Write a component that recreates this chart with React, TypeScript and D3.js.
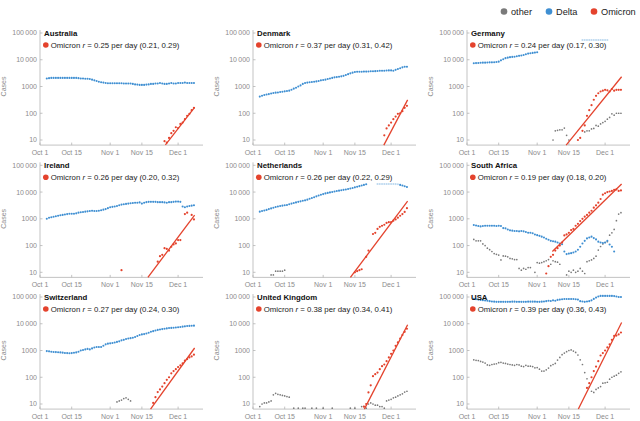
import * as d3 from 'd3';

// days are counted from Oct 1 2021; each series starts at a given day
type Series = { start: number; values: (number | null)[] };

const countries = ['Australia', 'Denmark', 'Germany', 'Ireland', 'Netherlands', 'South Africa', 'Switzerland', 'United Kingdom', 'USA'];
const growthRates = [0.25, 0.37, 0.24, 0.26, 0.26, 0.19, 0.27, 0.38, 0.39];
const rateLow = [0.21, 0.31, 0.17, 0.2, 0.22, 0.18, 0.24, 0.34, 0.36];
const rateHigh = [0.29, 0.42, 0.3, 0.32, 0.29, 0.2, 0.3, 0.41, 0.43];
const fitStartDays = [55.4, 57.4, 43.5, 47, 42.7, 37.7, 48.5, 48.9, 49];
const fitEndValues = [166, 315, 2310, 1380, 4600, 20000, 1240, 9200, 11200];
const fitEndDay = 68.3;

const xTicks = ['2021-10-01', '2021-10-15', '2021-11-01', '2021-11-15', '2021-12-01'];
const yTicks = [10, 100, 1000, 10000, 100000];
const yTickLabels = ['10', '100', '1000', '10\u2009000', '100\u2009000'];

const ausDelta: Series = { start: 3, values: [2000, 2050, 2100, 2100, 2100, 2100, 2100, 2100, 2100, 2100, 2100, 2100, 2100, 2100, 2050, 2000, 2000, 1950, 1950, 1900, 1800, 1700, 1600, 1500, 1450, 1400, 1350, 1330, 1320, 1320, 1320, 1320, 1320, 1320, 1300, 1300, 1300, 1300, 1250, 1200, 1180, 1150, 1150, 1150, 1180, 1200, 1250, 1250, 1300, 1300, 1350, 1300, 1250, 1250, 1300, 1350, 1300, 1300, 1350, 1350, 1350, 1400, 1350, 1350, 1350, 1350] };
const ausOmicron: Series = { start: 55, values: [9, 8, 12, 18, 22, 30, 28, 40, 45, 60, 80, 95, 130, 160] };

const denDelta: Series = { start: 3, values: [420, 450, 480, 500, 520, 550, 570, 590, 600, 620, 640, 660, 680, 700, 760, 830, 900, 1000, 1100, 1250, 1350, 1400, 1450, 1480, 1500, 1550, 1600, 1700, 1750, 1800, 1900, 2000, 2100, 2200, 2250, 2300, 2400, 2500, 2700, 2900, 3100, 3300, 3500, 3550, 3550, 3550, 3600, 3600, 3650, 3700, 3700, 3750, 3800, 3900, 3900, 3900, 3950, 4000, 4000, 3900, 4200, 4500, 4800, 5200, 5500, 5500] };
const denOmicron: Series = { start: 58, values: [15, 27, 35, 45, 60, 75, 95, 100, 120, 160, 190] };

const gerDelta: Series = { start: 3, values: [7400, 7500, 7600, 7700, 7800, 7800, 7900, 8000, 8000, 8100, 8200, 8500, 9500, 10500, 11500, 12000, 12500, 12800, 13000, 13500, 14000, 14500, 15000, 16000, 17000, 17500, 18000, 18500, 19000] };
const gerDeltaFaded: Series = { start: 51, values: [55000, 55000, 55000, 55000, 55000, 55000, 55000, 55000, 55000, 55000, 55000, 55000] };
const gerOther: Series = { start: 38, values: [10, 22, 23, 24, 24, 28, 15, 10, null, null, null, null, null, null, 20, 22, 22, 26, 27, 35, 33, 40, 45, 50, 60, 70, 95, 85, 100, 100, 100] };
const gerOmicron: Series = { start: 49, values: [10, 12, 22, 35, 80, 130, 200, 320, 450, 560, 650, 700, 750, 720, 650, 800, 700, 750, 750, 750] };

const ireDelta: Series = { start: 3, values: [1000, 1100, 1150, 1200, 1250, 1300, 1350, 1400, 1450, 1500, 1550, 1550, 1550, 1600, 1700, 1750, 1800, 1850, 1900, 1950, 2000, 1950, 1950, 2000, 2100, 2200, 2300, 2500, 2700, 2800, 2900, 3000, 3200, 3400, 3500, 3600, 3700, 3800, 3900, 4000, 4000, 4100, 3700, 4000, 4200, 4300, 4300, 4300, 4300, 4200, 4200, 4200, 4100, 4000, 4200, 4200, 4300, 4400, 4400, 4300, 2900, 2700, 2900, 3000, 3100, 3200] };
const ireOmicron: Series = { start: 36, values: [12, null, null, null, null, null, null, null, null, null, null, null, null, null, null, null, 25, 40, 45, 80, 75, 65, 90, 110, 120, 160, 160, null, 1500, 1700, null, 1400, 950] };

const nedDelta: Series = { start: 3, values: [1850, 1950, 2050, 2150, 2300, 2450, 2600, 2750, 2900, 3000, 3100, 3200, 3300, 3500, 3700, 3900, 4100, 4300, 4500, 4700, 4900, 5200, 5600, 6000, 6400, 6900, 7400, 7900, 8400, 8900, 9300, 9700, 10100, 10500, 10900, 11300, 11700, 12100, 12500, 13000, 13500, 14200, 15000, 15800, 16600, 17500, 18500, 19500] };
const nedDeltaFaded: Series = { start: 55, values: [20000, 20000, 20000, 20000, 20000, 20000, 20000, 20000, 19800, 19500] };
const nedDeltaLate: Series = { start: 65, values: [18500, 17500, 16500, 15500] };
const nedOther: Series = { start: 8, values: [8, 8, 11, 11, 11, 11, 12] };
const nedOmicron: Series = { start: 45, values: [10, 11, 12, 13, null, 38, 65, null, 270, 300, 420, 500, 550, 600, 700, 750, 750, 850, 950, 1100, 1300, 1500, 1800, 2500] };

const saDelta: Series = { start: 3, values: [590, 560, 540, 520, 540, 550, 550, 550, 550, 550, 540, 550, 540, 450, 440, 400, 370, 360, 350, 350, 340, 350, 340, 320, 300, 300, 290, 260, 245, 230, 215, 200, 180, 165, 150, 145, 140, 130, 120, 112, 60, 48, 50, 52, 55, 60, 70, 90, 120, 150, 185, 200, 215, 190, 170, 140, 130, 125, 130, 150, 110, 90, 60] };
const saOther: Series = { start: 3, values: [170, 150, 150, 150, 115, 100, 80, 70, 60, 50, 47, 44, 29, 41, 40, 38, 33, 32, 30, 30, 14, 12, 14, 13, 15, 15, null, 10, 23, 22, 23, 25, 27, 30, 20, 27, 25, 24, 20, null, null, 8, 11, 10, 12, 10, 11, 14, 11, 9, 25, 27, 29, 33, 40, 68, 92, 115, 130, 140, 245, 300, 400, 850, 1500, 1700] };
const saOmicron: Series = { start: 35, values: [9, 17, 38, 45, 65, 80, 100, 130, 240, 260, 300, 380, 420, 550, 650, 820, 1000, 1200, 1400, 1700, 2000, 2600, 3200, 4000, 5500, 8000, 9000, 10000, 10500, 11000, 12000, 12500, 11000, 11500] };

const swiDelta: Series = { start: 3, values: [950, 930, 900, 880, 870, 860, 850, 830, 810, 800, 790, 800, 820, 850, 900, 1000, 1050, 1100, 1150, 1100, 1200, 1300, 1350, 1350, 1350, 1500, 1700, 1800, 1850, 1900, 2000, 2100, 2200, 2400, 2500, 2700, 2800, 2900, 3000, 3200, 3500, 3800, 4000, 4100, 4300, 4600, 5000, 5300, 5600, 5900, 6100, 6300, 6500, 6700, 6900, 7000, 7100, 7200, 7400, 7600, 7800, 8000, 8200, 8300, 8400, 8500] };
const swiOther: Series = { start: 34, values: [12, 13, 14, 16, 17, 15, 13] };
const swiOmicron: Series = { start: 50, values: [11, 18, 28, 35, 45, 60, 80, 100, 140, 170, 200, 240, 280, 330, 420, 480, 550, 600, 700] };

const ukOther: Series = { start: 3, values: [8, 10, 11, 11, 12, 13, 22, 25, 23, 22, 21, 20, 19, 18, null, 7, null, 7, null, 7, 7, null, null, 7, null, 7, null, null, 7, null, null, null, 7, null, null, null, null, null, null, null, 7, null, 7, null, null, 8, 8, 7, 10, 11, 10, 9, 9, 8, 8, 7, 13, 14, 15, 17, 18, 20, 22, 24, 28, 30] };
const ukOmicron: Series = { start: 49, values: [8, 10, 27, 50, 110, 130, 150, 200, 260, 300, 400, 550, 750, 1000, 1500, 2000, 2800, 3800, 5000, 6500] };

const usaDelta: Series = { start: 3, values: [85000, 82000, 80000, 78000, 76000, 74000, 72000, 70000, 68000, 67000, 66000, 66000, 66000, 66000, 66000, 66000, 66000, 67000, 67000, 66000, 66000, 66000, 66000, 66000, 67000, 67000, 67000, 67000, 66000, 66000, 67000, 68000, 70000, 72000, 71000, 75000, 72000, 78000, 80000, 82000, 84000, 84000, 84000, 84000, 84000, 82000, 80000, 70000, 68000, 66000, 68000, 70000, 75000, 85000, 95000, 105000, 110000, 110000, 110000, 110000, 110000, 110000, 108000, 105000, 100000, 100000] };
const usaOther: Series = { start: 3, values: [450, 430, 420, 390, 370, 340, 290, 280, 300, 310, 320, 350, 360, 340, 330, 310, 300, 290, 280, 300, 290, 260, 250, 280, 260, 260, 250, 225, 230, 200, 170, 170, 190, 220, 270, 300, 330, 440, 550, 700, 800, 900, 1000, 1050, 950, 850, 680, 450, 300, 150, 88, 44, 30, 27, 35, 40, 45, 60, 62, 65, 85, 100, 110, 120, 140, 160] };
const usaOmicron: Series = { start: 53, values: [40, 60, 100, 170, 250, 400, 650, 800, 1000, 1300, 1700, 2500, 3500, 3600, 4000, 4700] };

const deltaSeries: Series[][] = [[ausDelta], [denDelta], [gerDelta], [ireDelta], [nedDelta, nedDeltaLate], [saDelta], [swiDelta], [], [usaDelta]];
const fadedSeries: Series[][] = [[], [], [gerDeltaFaded], [], [nedDeltaFaded], [], [], [], []];
const otherSeries: Series[][] = [[], [], [gerOther], [], [nedOther], [saOther], [swiOther], [ukOther], [usaOther]];
const omicronSeries: Series[] = [ausOmicron, denOmicron, gerOmicron, ireOmicron, nedOmicron, saOmicron, swiOmicron, ukOmicron, usaOmicron];

const GREY = '#7a7a7a';
const BLUE = '#3f8fd2';
const RED = '#e4432d';
const AXIS = '#b4b4b4';
const LABEL = '#8c8c8c';

const colX = [40, 253, 467];
const rowTop = [33, 165.3, 297];
const PW = 163;
const DECADE = 26.75;
const oct1 = new Date(Date.UTC(2021, 9, 1));
const dayDate = (d: number) => new Date(oct1.getTime() + d * 864e5);

const toPoints = (s: Series) =>
  s.values.flatMap((v, i) => (v == null ? [] : [[s.start + i, v] as [number, number]]));

function Panel({ i }: { i: number }) {
  const x0 = colX[i % 3];
  const top = rowTop[Math.floor(i / 3)];
  const yMin = 10 ** 0.81;
  const x = d3.scaleUtc().domain([oct1, dayDate(72)]).range([x0, x0 + PW]);
  const y = d3.scaleLog().domain([yMin, 10 ** 5.11]).range([top + 4.19 * DECADE, top - 0.11 * DECADE]);
  const bottom = y(yMin);
  const px = (d: number) => x(dayDate(d));

  const r = growthRates[i];
  const endV = fitEndValues[i];
  const dMin = fitEndDay - Math.log(endV / yMin) / r;
  const d0 = Math.max(fitStartDays[i], dMin);
  const fit: [number, number][] = [
    [d0, endV * Math.exp(r * (d0 - fitEndDay))],
    [fitEndDay, endV],
  ];
  const line = d3.line<[number, number]>().x(d => px(d[0])).y(d => y(d[1]));

  const dots = (list: Series[], fill: string, rad: number, op = 1) =>
    list.flatMap((s, k) =>
      toPoints(s).map(([d, v], j) => (
        <circle key={`${fill}${k}-${j}`} cx={px(d)} cy={y(v)} r={rad} fill={fill} opacity={op} />
      ))
    );

  return (
    <g>
      {/* axes */}
      <line x1={x0} x2={x0} y1={y(10 ** 5.11)} y2={bottom} stroke={AXIS} strokeWidth={0.8} />
      <line x1={x0} x2={x0 + PW} y1={bottom} y2={bottom} stroke={AXIS} strokeWidth={0.8} />
      {yTicks.map((t, k) => (
        <g key={t}>
          <line x1={x0} x2={x0 + 2.5} y1={y(t)} y2={y(t)} stroke={AXIS} strokeWidth={0.8} />
          <text x={x0 - 3} y={y(t)} dy="0.35em" textAnchor="end" fontSize={7} fill={LABEL}>
            {yTickLabels[k]}
          </text>
        </g>
      ))}
      {xTicks.map(t => {
        const dt = new Date(t + 'T00:00:00Z');
        return (
          <g key={t}>
            <line x1={x(dt)} x2={x(dt)} y1={bottom} y2={bottom - 2.5} stroke={AXIS} strokeWidth={0.8} />
            <text x={x(dt)} y={bottom + 9.5} textAnchor="middle" fontSize={7} fill={LABEL}>
              {d3.utcFormat('%b %-d')(dt)}
            </text>
          </g>
        );
      })}
      <text
        transform={`translate(${x0 - 34},${y(1000)}) rotate(-90)`}
        textAnchor="middle"
        fontSize={7}
        fill={LABEL}
      >
        Cases
      </text>

      {/* data */}
      {dots(otherSeries[i], GREY, 0.85)}
      {dots(fadedSeries[i], BLUE, 1.05, 0.35)}
      {dots(deltaSeries[i], BLUE, 1.05)}
      {dots([omicronSeries[i]], RED, 1.1)}
      <path d={line(fit) ?? ''} fill="none" stroke={RED} strokeWidth={1.3} />

      {/* title + fit legend */}
      <text x={x0 + 4} y={top + 3} fontSize={7.8} fontWeight="bold" fill="#111">
        {countries[i]}
      </text>
      <circle cx={x0 + 5.8} cy={top + 12} r={2.8} fill={RED} />
      <text x={x0 + 10.8} y={top + 14.6} fontSize={7.8} fill="#222">
        Omicron <tspan fontStyle="italic">r</tspan> = {r.toFixed(2)} per day ({rateLow[i].toFixed(2)},{' '}
        {rateHigh[i].toFixed(2)})
      </text>
    </g>
  );
}

const legendItems = ['other', 'Delta', 'Omicron'];
const legendColors = [GREY, BLUE, RED];
const legendX = [504, 549, 594];

export default function App() {
  return (
    <svg
      width={640}
      height={421}
      style={{ position: 'absolute', left: 0, top: 0, background: '#fff' }}
      fontFamily="'Liberation Sans', Arial, sans-serif"
    >
      {legendItems.map((name, k) => (
        <g key={name}>
          <circle cx={legendX[k]} cy={11.5} r={3.3} fill={legendColors[k]} />
          <text x={legendX[k] + 7} y={14.8} fontSize={9.2} fill="#222">
            {name}
          </text>
        </g>
      ))}
      {countries.map((c, i) => (
        <Panel key={c} i={i} />
      ))}
    </svg>
  );
}
